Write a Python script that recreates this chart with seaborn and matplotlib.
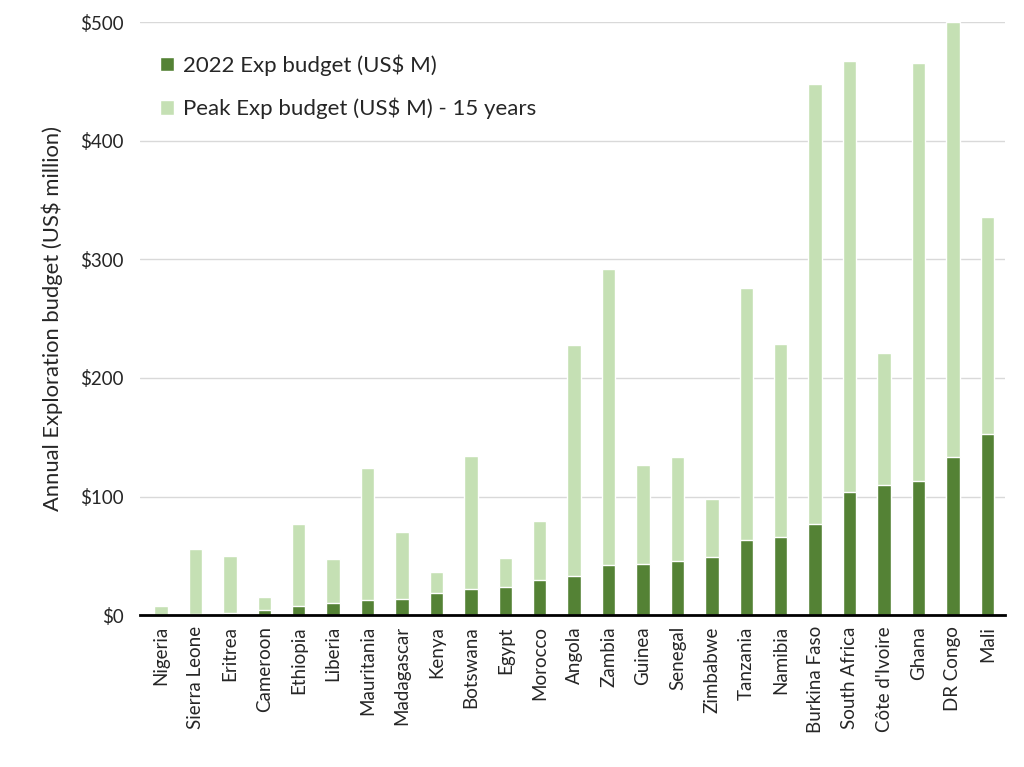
import pandas as pd
import matplotlib
matplotlib.use('Agg')
import matplotlib.pyplot as plt
import seaborn as sns
from matplotlib.ticker import FuncFormatter

countries = ['Nigeria', 'Sierra Leone', 'Eritrea', 'Cameroon', 'Ethiopia', 'Liberia', 'Mauritania',
             'Madagascar', 'Kenya', 'Botswana', 'Egypt', 'Morocco', 'Angola', 'Zambia', 'Guinea',
             'Senegal', 'Zimbabwe', 'Tanzania', 'Namibia', 'Burkina Faso', 'South Africa',
             "Côte d'Ivoire", 'Ghana', 'DR Congo', 'Mali']
budget_2022 = [0.3, 1, 1.5, 4, 8, 10, 12.5, 14, 18.5, 22, 24, 30, 33, 42, 43,
               46, 49, 63, 66, 77, 104, 110, 113, 133, 153]
budget_peak = [8, 56, 50, 15, 77, 47, 124, 70, 36, 134, 48, 79, 228, 292, 127,
               133, 98, 276, 229, 448, 467, 221, 466, 500, 336]

df = pd.DataFrame({'country': countries, 'y2022': budget_2022, 'peak': budget_peak})

sns.set_theme(style='white')
plt.rcParams['font.family'] = ['Lato', 'DejaVu Sans']

fig = plt.figure(figsize=(10.24, 7.67), dpi=100)
ax = fig.add_axes([0.137, 0.198, 0.844, 0.773])

light = '#c5e0b4'
dark = '#548235'
# peak drawn first, 2022 overlaid from zero
sns.barplot(data=df, x='country', y='peak', color=light, width=0.39, ax=ax,
            label='Peak Exp budget (US$ M) - 15 years', saturation=1)
sns.barplot(data=df, x='country', y='y2022', color=dark, width=0.39, ax=ax,
            label='2022 Exp budget (US$ M)', saturation=1)

ax.set_ylim(0, 500)
ax.set_xlim(-0.6, len(countries) - 0.5)
ax.set_yticks(range(0, 501, 100))
ax.yaxis.set_major_formatter(FuncFormatter(lambda v, p: f'${v:.0f}'))
ax.yaxis.grid(True, color='#d9d9d9', linewidth=1)
ax.set_axisbelow(True)
for s in ['left', 'right', 'top']:
    ax.spines[s].set_visible(False)
ax.spines['bottom'].set_color('black')
ax.spines['bottom'].set_linewidth(2)
ax.tick_params(axis='y', labelsize=13.5, length=0, pad=12)
ax.tick_params(axis='x', labelsize=13.5, length=0, rotation=90, pad=8)
ax.set_xlabel('')
ax.set_ylabel('Annual Exploration budget (US$ million)', fontsize=15.8, labelpad=12)

handles, labels = ax.get_legend_handles_labels()
ax.legend(handles[::-1], labels[::-1], loc='upper left', bbox_to_anchor=(0.0, 0.98),
          frameon=False, fontsize=16, handlelength=0.6, handleheight=0.6,
          labelspacing=1.0, handletextpad=0.4)

fig.savefig('out.png', dpi=100)
